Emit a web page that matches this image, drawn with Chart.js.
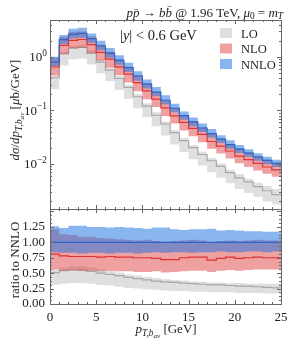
<!DOCTYPE html>
<html>
<head>
<meta charset="utf-8">
<script src="https://cdn.jsdelivr.net/npm/chart.js@4.4.0/dist/chart.umd.min.js"></script>
<style>
  body { margin: 0; background: #fff; }
  #wrap { position: relative; width: 297px; height: 346px; }
  #wrap canvas { position: absolute; left: 0; top: 0; }
</style>
</head>
<body>
<div id="wrap">
  <canvas id="ratio" width="297" height="346"></canvas>
  <canvas id="main" width="297" height="346"></canvas>
</div>
<script>
// bin edges in GeV
const edges = [0,1,2,3,4,5,6,7,8,9,10,11,12,13,14,15,16,17,18,19,20,21,22,23,24,25];

// NNLO central value per bin [mub/GeV]
const nnloMid = [0.80, 2.1, 2.65, 2.75, 2.2, 1.6, 1.18, 0.86, 0.63, 0.44, 0.31, 0.22, 0.155, 0.11, 0.08, 0.061, 0.047, 0.037, 0.029, 0.023, 0.019, 0.016, 0.0135, 0.0117, 0.0103];

// everything below is ratio to NNLO central
const nnloMidR = [1,1,1,1,1,1,1,1,1,1,1,1,1,1,1,1,1,1,1,1,1,1,1,1,1];
const nnloLoR = [0.84,0.83,0.83,0.82,0.83,0.83,0.82,0.83,0.83,0.82,0.83,0.84,0.83,0.84,0.84,0.83,0.84,0.84,0.85,0.84,0.84,0.85,0.85,0.84,0.85];
const nnloHiR = [1.26,1.23,1.27,1.27,1.25,1.25,1.24,1.25,1.24,1.23,1.22,1.24,1.24,1.21,1.20,1.21,1.21,1.22,1.19,1.20,1.19,1.18,1.18,1.17,1.17];

const nloMidR = [0.81,0.78,0.77,0.77,0.77,0.76,0.77,0.76,0.76,0.75,0.75,0.74,0.72,0.72,0.75,0.76,0.76,0.71,0.74,0.76,0.74,0.75,0.76,0.75,0.75];
const nloLoR  = [0.56,0.54,0.55,0.54,0.54,0.53,0.54,0.53,0.53,0.52,0.52,0.53,0.51,0.52,0.53,0.54,0.54,0.52,0.54,0.55,0.54,0.55,0.56,0.56,0.56];
const nloHiR  = [1.21,1.13,1.12,1.09,1.09,1.07,1.06,1.05,1.04,1.03,1.04,1.02,1.01,1.02,1.03,1.04,1.03,1.00,1.02,1.03,1.02,1.03,1.04,1.03,1.03];

const loMidR = [0.51,0.54,0.55,0.55,0.53,0.50,0.48,0.46,0.43,0.41,0.39,0.37,0.36,0.35,0.34,0.33,0.32,0.31,0.31,0.30,0.29,0.29,0.28,0.27,0.26];
const loLoR  = [0.31,0.33,0.34,0.34,0.33,0.31,0.30,0.28,0.26,0.25,0.24,0.23,0.22,0.21,0.21,0.20,0.20,0.19,0.19,0.19,0.18,0.18,0.18,0.17,0.17];
const loHiR  = [0.56,0.59,0.61,0.61,0.59,0.56,0.54,0.51,0.48,0.46,0.44,0.42,0.40,0.39,0.38,0.37,0.36,0.35,0.35,0.34,0.34,0.33,0.33,0.33,0.33];

const xTicks = [0,5,10,15,20,25];
const ratioTicks = [0,0.25,0.5,0.75,1.0,1.25];
const logTicks = [0.01, 0.1, 1];
const logLabels = ['−2', '−1', '0'];
const legendNames = ['LO', 'NLO', 'NNLO'];

const FAM = '"Liberation Serif", "DejaVu Serif", serif';
const TXT = '#222';
const FRAME = '#666';
const colors = {
  lo:   { fill: 'rgba(185,185,185,0.45)', line: '#a8a8a8' },
  nlo:  { fill: 'rgba(220,45,45,0.45)',   line: '#e03232' },
  nnlo: { fill: 'rgba(30,115,225,0.52)',  line: '#2a66cc' }
};

const toAbs = r => r.map((v, i) => v * nnloMid[i]);

function steps(vals) {
  return edges.map((x, i) => ({ x: x, y: vals[Math.min(i, vals.length - 1)] }));
}

function band(mid, lo, hi, c) {
  const common = { stepped: true, pointRadius: 0, tension: 0 };
  return [
    Object.assign({ data: steps(mid), borderColor: c.line, borderWidth: 1.2, fill: false }, common),
    Object.assign({ data: steps(hi), borderColor: 'rgba(0,0,0,0)', borderWidth: 1, backgroundColor: c.fill, fill: '+1' }, common),
    Object.assign({ data: steps(lo), borderColor: 'rgba(0,0,0,0)', borderWidth: 1, fill: false }, common)
  ];
}

// draw a run of text pieces: n normal, i italic, si italic sub, sn normal sub, ssi sub-sub, sup superscript
function rich(ctx, runs, x, y, size, align, rot) {
  const f = {
    n: size + 'px ' + FAM, i: 'italic ' + size + 'px ' + FAM,
    si: 'italic ' + (size * 0.72) + 'px ' + FAM, sn: (size * 0.72) + 'px ' + FAM,
    ssi: 'italic ' + (size * 0.55) + 'px ' + FAM, sup: (size * 0.72) + 'px ' + FAM
  };
  const dy = { n: 0, i: 0, si: size * 0.22, sn: size * 0.22, ssi: size * 0.4, sup: -size * 0.42 };
  ctx.save();
  ctx.fillStyle = TXT;
  ctx.textBaseline = 'alphabetic';
  ctx.textAlign = 'left';
  let w = 0;
  const ws = runs.map(([t, s]) => { ctx.font = f[s]; const m = ctx.measureText(t).width; w += m; return m; });
  ctx.translate(x, y);
  if (rot) ctx.rotate(rot);
  let cx = align === 'center' ? -w / 2 : align === 'right' ? -w : 0;
  runs.forEach(([t, s], k) => { ctx.font = f[s]; ctx.fillText(t, cx, dy[s]); cx += ws[k]; });
  ctx.restore();
}

function frameAndTicks(chart, yTickList) {
  const { ctx, chartArea: a, scales } = chart;
  ctx.save();
  ctx.strokeStyle = FRAME;
  ctx.lineWidth = 1;
  ctx.beginPath();
  const seg = (x1, y1, x2, y2) => { ctx.moveTo(x1, y1); ctx.lineTo(x2, y2); };
  for (let v = 0; v <= 25; v++) {
    const px = Math.round(scales.x.getPixelForValue(v)) + 0.5;
    const L = v % 5 === 0 ? 4 : 2;
    seg(px, a.bottom, px, a.bottom - L);
    seg(px, a.top, px, a.top + L);
  }
  yTickList.forEach(([v, L]) => {
    const py = Math.round(scales.y.getPixelForValue(v)) + 0.5;
    if (py < a.top || py > a.bottom) return;
    seg(a.left, py, a.left + L, py);
    seg(a.right, py, a.right - L, py);
  });
  ctx.stroke();
  ctx.strokeRect(Math.round(a.left) + 0.5, Math.round(a.top) + 0.5, Math.round(a.right - a.left), Math.round(a.bottom - a.top));
  ctx.restore();
}

const mainDecor = {
  id: 'mainDecor',
  afterDraw(chart) {
    const { ctx, scales } = chart;
    const ticks = [];
    for (let d = -3; d <= 0; d++) {
      for (let m = 1; m <= 9; m++) ticks.push([m * Math.pow(10, d), m === 1 ? 4 : 2]);
    }
    frameAndTicks(chart, ticks);
    logTicks.forEach((v, k) => {
      const py = scales.y.getPixelForValue(v);
      rich(ctx, [['10', 'n'], [logLabels[k], 'sup']], 47, py + 4.5, 13, 'right');
    });
    rich(ctx, [['dσ', 'i'], ['/', 'n'], ['dp', 'i'], ['T,b', 'si'], ['av', 'ssi'], [' [', 'n'], ['μ', 'i'], ['b/GeV]', 'n']],
      19, 110, 13, 'center', -Math.PI / 2);
    rich(ctx, [['p', 'i'], ['p̄', 'i'], [' → ', 'n'], ['b', 'i'], ['b̄', 'i'], [' @ 1.96 TeV, ', 'n'], ['μ', 'i'], ['0', 'sn'], [' = ', 'n'], ['m', 'i'], ['T', 'si']],
      283, 16.5, 13, 'right');
    rich(ctx, [['|', 'n'], ['y', 'i'], ['| < 0.6 GeV', 'n']], 120, 40, 14.5, 'left');
    const fills = [colors.lo.fill, colors.nlo.fill, colors.nnlo.fill];
    legendNames.forEach((name, k) => {
      const cy = 33 + k * 15.5;
      ctx.fillStyle = fills[k];
      ctx.fillRect(220, cy - 5, 12, 10);
      rich(ctx, [[name, 'n']], 241, cy + 4.5, 12.5, 'left');
    });
  }
};

const ratioDecor = {
  id: 'ratioDecor',
  afterDraw(chart) {
    const ticks = [];
    for (let v = 0; v <= 1.55; v += 0.0625) ticks.push([v, Math.abs(v / 0.25 - Math.round(v / 0.25)) < 1e-6 ? 4 : 2]);
    frameAndTicks(chart, ticks);
    rich(chart.ctx, [['ratio to NNLO', 'n']], 19, 260, 13, 'center', -Math.PI / 2);
    rich(chart.ctx, [['p', 'i'], ['T,b', 'si'], ['av', 'ssi'], [' [GeV]', 'n']], 166, 333, 13, 'center');
  }
};

const mainSets = [].concat(
  band(nnloMid, toAbs(nnloLoR), toAbs(nnloHiR), colors.nnlo),
  band(toAbs(nloMidR), toAbs(nloLoR), toAbs(nloHiR), colors.nlo),
  band(toAbs(loMidR), toAbs(loLoR), toAbs(loHiR), colors.lo)
);

new Chart(document.getElementById('main'), {
  type: 'line',
  data: { datasets: mainSets },
  options: {
    responsive: false,
    animation: false,
    layout: { padding: { left: 50, right: 16, top: 20, bottom: 137 } },
    plugins: { legend: { display: false }, tooltip: { enabled: false } },
    scales: {
      x: { type: 'linear', min: 0, max: 25, display: false },
      y: { type: 'logarithmic', min: 1.44e-3, max: 4.9, display: false }
    }
  },
  plugins: [mainDecor]
});

const ratioSets = [].concat(
  band(nnloMidR, nnloLoR, nnloHiR, colors.nnlo),
  band(nloMidR, nloLoR, nloHiR, colors.nlo),
  band(loMidR, loLoR, loHiR, colors.lo)
);

new Chart(document.getElementById('ratio'), {
  type: 'line',
  data: { datasets: ratioSets },
  options: {
    responsive: false,
    animation: false,
    layout: { padding: { left: 0, right: 16, top: 209, bottom: 0 } },
    plugins: { legend: { display: false }, tooltip: { enabled: false } },
    scales: {
      x: {
        type: 'linear', min: 0, max: 25,
        grid: { display: false, drawTicks: false }, border: { display: false },
        afterBuildTicks: s => { s.ticks = xTicks.map(v => ({ value: v })); },
        afterFit: s => { s.height = 42; },
        ticks: { padding: 6, color: TXT, font: { family: FAM, size: 13 }, maxRotation: 0, autoSkip: false }
      },
      y: {
        min: 0, max: 1.54,
        grid: { display: false, drawTicks: false }, border: { display: false },
        afterBuildTicks: s => { s.ticks = ratioTicks.map(v => ({ value: v })); },
        afterFit: s => { s.width = 50; },
        ticks: { padding: 5, color: TXT, font: { family: FAM, size: 13 }, callback: v => v.toFixed(2) }
      }
    }
  },
  plugins: [ratioDecor]
});
</script>
</body>
</html>
